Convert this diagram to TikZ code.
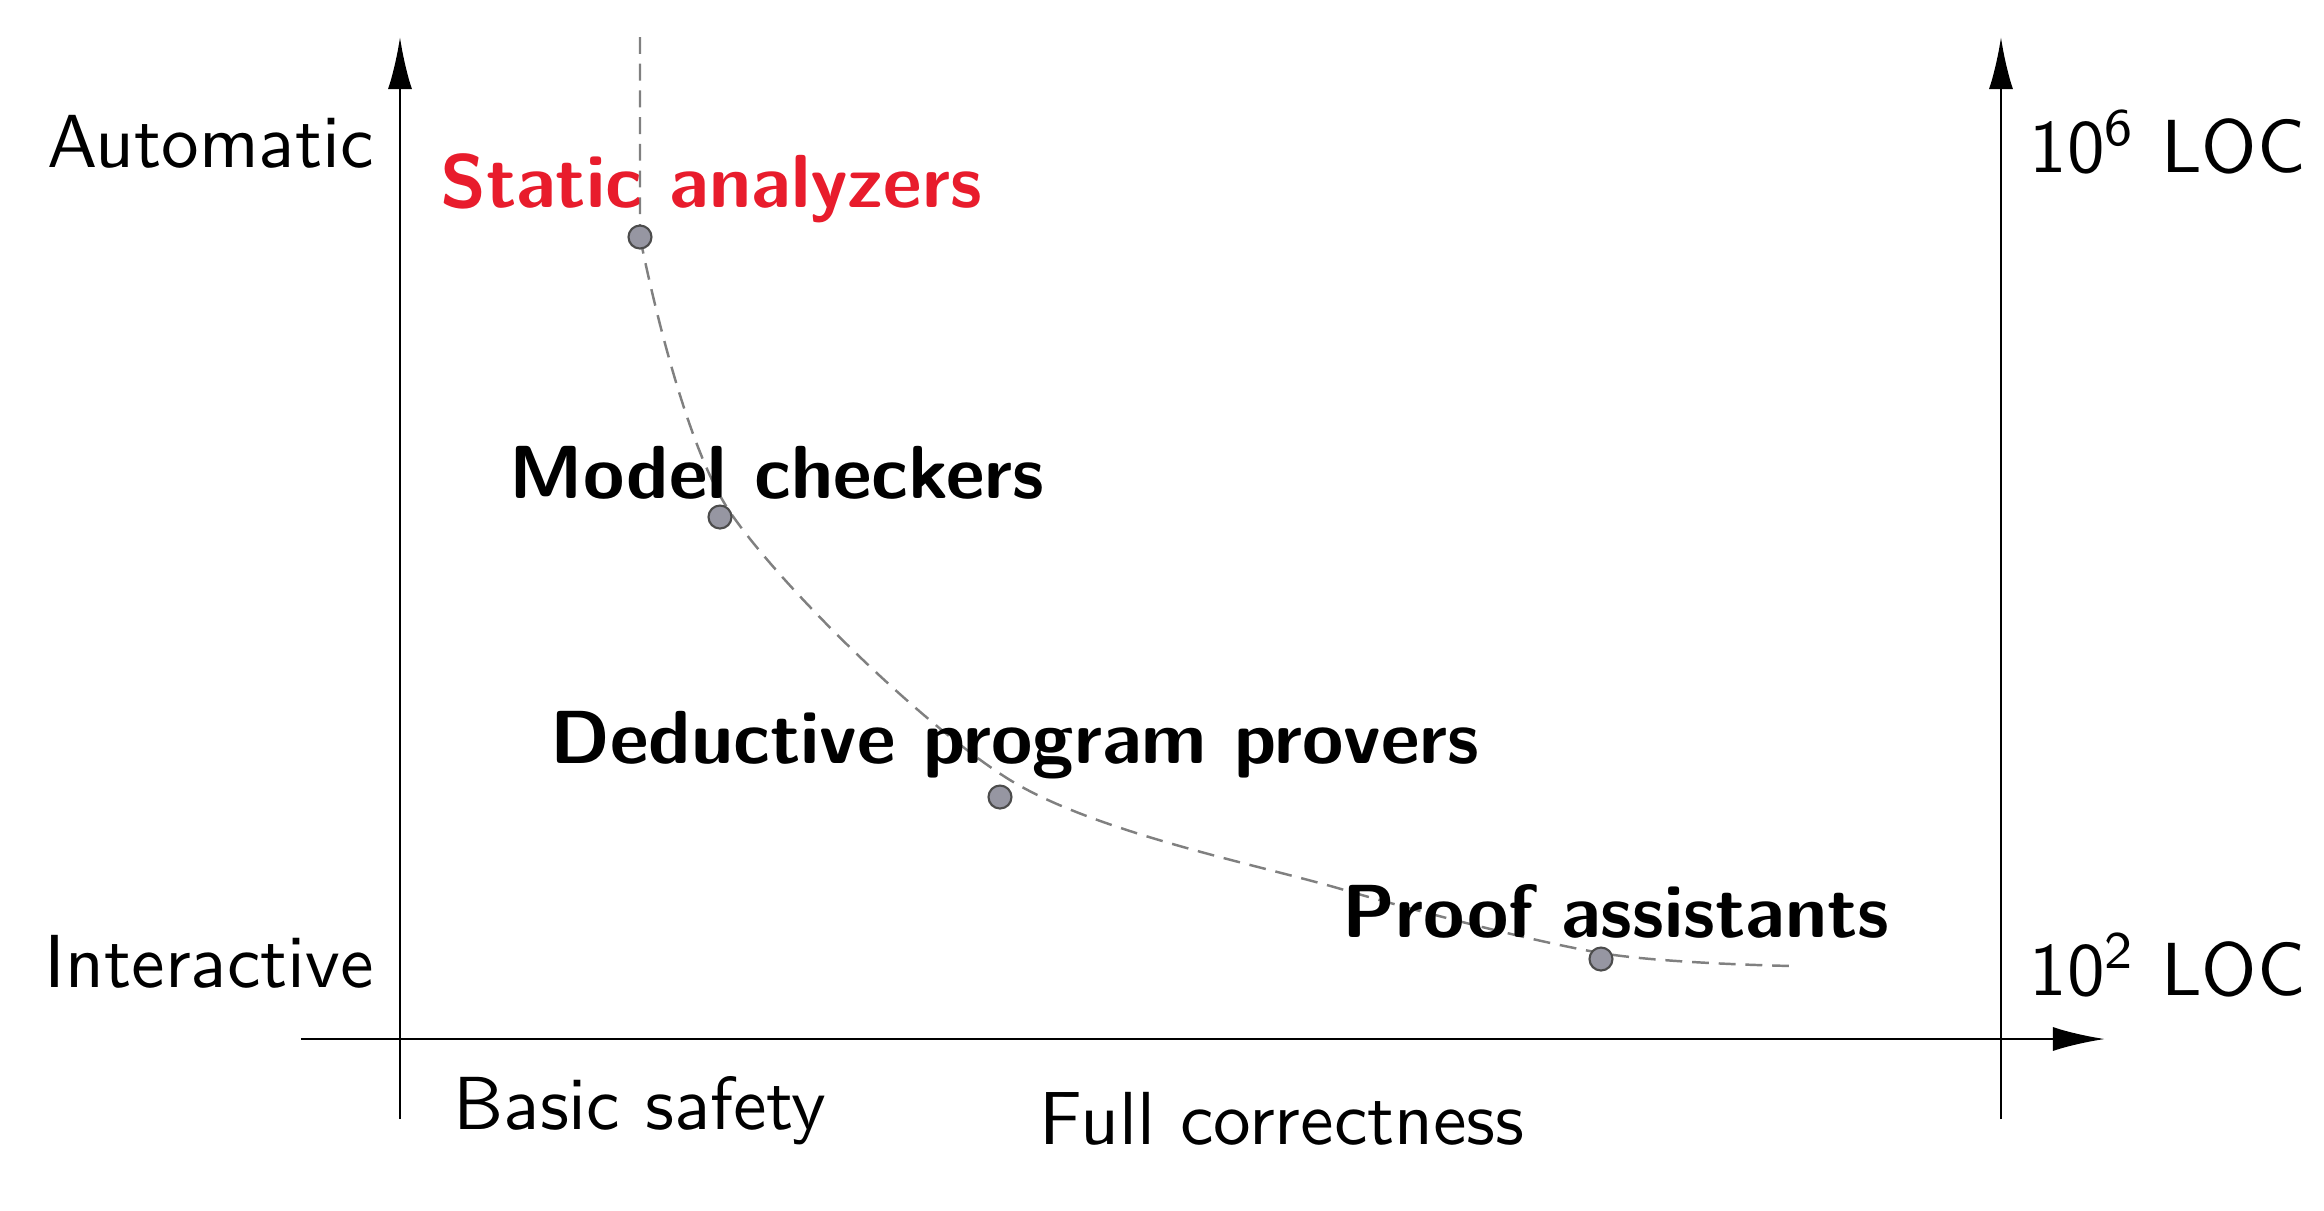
\documentclass[tikz,border=0pt]{standalone}
\usepackage{tikz}
\usetikzlibrary{positioning, arrows.meta, shapes}
\definecolor{alertred}{RGB}{232,28,44}
\definecolor{dotgray}{RGB}{150,150,162}
\tikzstyle{axis} = [thin, -{Latex[length=2.6mm,width=1.2mm]}]
\tikzstyle{tick} = [font=\sffamily\fontsize{10.7}{13}\selectfont, inner sep=0pt]
\tikzstyle{tool} = [font=\sffamily\bfseries\fontsize{10.7}{13}\selectfont, inner sep=0pt]
\tikzstyle{dot} = [circle, draw=black!70, fill=dotgray, minimum size=1.15mm, inner sep=0pt, line width=0.3pt]
\tikzstyle{frontier} = [gray, line width=0.35pt, dash pattern=on 2.4pt off 1.4pt]

\begin{document}
\begin{tikzpicture}[x=0.5cm, y=-0.5cm]
      \useasboundingbox (0,0) rectangle (23.24,12.10);
      % axes
      \coordinate (ybot) at (4.00,11.19);
      \coordinate (ytop) at (4.00,0.37);
      \coordinate (xleft) at (3.01,10.39);
      \coordinate (xright) at (21.05,10.39);
      \coordinate (rbot) at (20.01,11.19);
      \coordinate (rtop) at (20.01,0.37);
      \draw[axis] (ybot) -- (ytop);
      \draw[axis] (xleft) -- (xright);
      \draw[axis] (rbot) -- (rtop);

      \node[tick, anchor=east] (auto) at (3.75,1.42) {Automatic};
      \node[tick, anchor=east] (inter) at (3.75,9.62) {Interactive};
      \node[tick, anchor=west] (hiloc) at (20.28,1.42) {10\textsuperscript{6} LOC};
      \node[tick, anchor=west] (loloc) at (20.28,9.65) {10\textsuperscript{2} LOC};
      \node[tick] (basic) at (6.40,11.11) {Basic safety};
      \node[tick] (full) at (12.82,11.19) {Full correctness};

      % trade-off curve
      \coordinate (c0) at (6.40,0.37);
      \coordinate (c1) at (6.40,2.37);
      \coordinate (c2) at (7.30,5.12);
      \coordinate (c3) at (10.10,7.80);
      \coordinate (c4) at (13.41,8.89);
      \coordinate (c5) at (16.01,9.53);
      \coordinate (c6) at (17.93,9.66);
      \draw[frontier] (c0) -- (c1) plot[smooth, tension=0.5] coordinates {(c1) (c2) (c3) (c4) (c5) (c6)};
      \node[dot] (sa) at (6.40,2.37) {};
      \node[dot] (mc) at (7.20,5.17) {};
      \node[dot] (dp) at (10.00,7.97) {};
      \node[dot] (pa) at (16.01,9.59) {};

      \node[tool, text=alertred] (salabel) at (7.11,1.88) {Static analyzers};
      \node[tool] (mclabel) at (7.77,4.73) {Model checkers};
      \node[tool] (dplabel) at (10.15,7.45) {Deductive program provers};
      \node[tool] (palabel) at (16.16,9.11) {Proof assistants};
    \end{tikzpicture}
\end{document}
